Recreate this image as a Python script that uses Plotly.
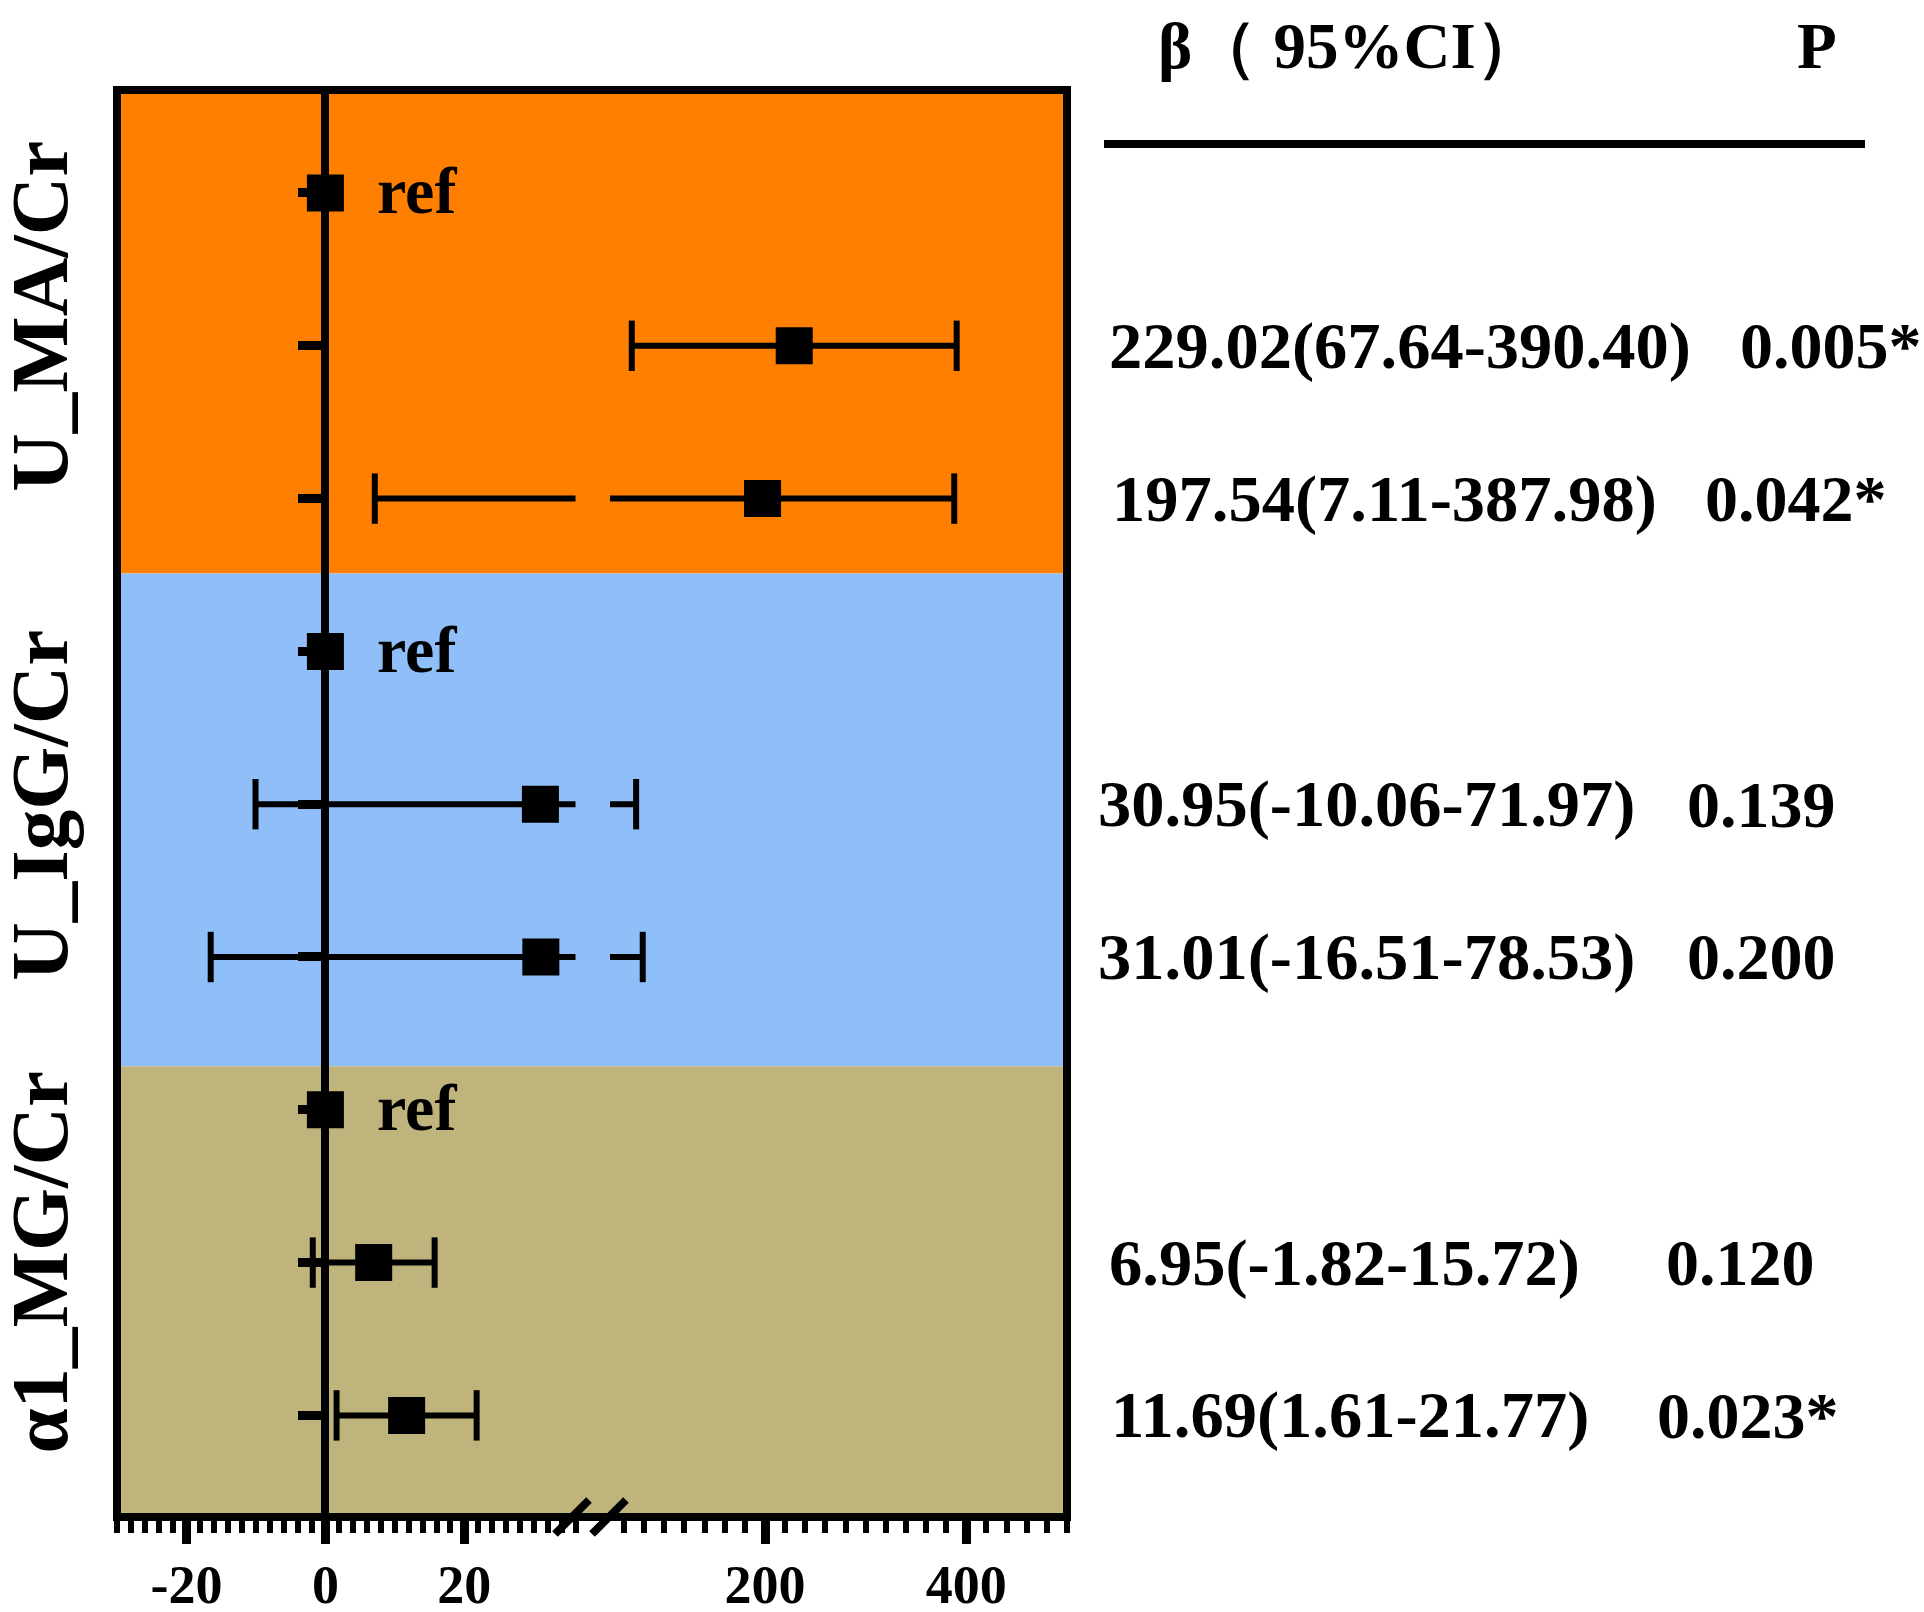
import plotly.graph_objects as go

# ---------------- data ----------------
groups = ["U_MA/Cr", "U_IgG/Cr", "α1_MG/Cr"]
group_colors = ["#FF8000", "#90BEF8", "#BFB47C"]
row_index = [0, 1, 2, 3, 4, 5, 6, 7, 8]
row_group = [0, 0, 0, 1, 1, 1, 2, 2, 2]
is_ref = [True, False, False, True, False, False, True, False, False]
beta = [0, 229.02, 197.54, 0, 30.95, 31.01, 0, 6.95, 11.69]
ci_low = [None, 67.64, 7.11, None, -10.06, -16.51, None, -1.82, 1.61]
ci_high = [None, 390.40, 387.98, None, 71.97, 78.53, None, 15.72, 21.77]
p_values = [None, "0.005*", "0.042*", None, "0.139", "0.200", None, "0.120", "0.023*"]
left_ticks = [-20, 0, 20]
right_ticks = [200, 400]
LEFT_RANGE = [-30, 36]
RIGHT_RANGE = [46, 500]

# ---------------- layout geometry (pixels) ----------------
W, H = 1924, 1612
ML, MR, MT, MB = 117, 857, 90, 95
PW = W - ML - MR
PH = H - MT - MB


def px2paper_x(px):
    return (px - ML) / PW


def px2paper_y(py):
    return 1 - (py - MT) / PH


D1 = px2paper_x(575.5)
D2 = px2paper_x(610)
Y_RANGE = [8.665, -0.674]
band_edges = [-0.674, 2.49, 5.715, 8.665]
FONT = "Liberation Serif, Times New Roman, serif"

fig = go.Figure()

axes = [("x", LEFT_RANGE), ("x2", RIGHT_RANGE)]
for xa, rng in axes:
    def inr(v, rng=rng):
        return v is not None and rng[0] <= v <= rng[1]
    # CI lines (clipped by subplot)
    for k in row_index:
        if is_ref[k]:
            continue
        fig.add_trace(go.Scatter(
            x=[ci_low[k], ci_high[k]], y=[k, k], xaxis=xa, yaxis="y",
            mode="lines", line=dict(color="black", width=6),
            showlegend=False, hoverinfo="skip"))
    # caps
    cx, cy = [], []
    for k in row_index:
        if is_ref[k]:
            continue
        for v in (ci_low[k], ci_high[k]):
            if inr(v):
                cx.append(v)
                cy.append(k)
    fig.add_trace(go.Scatter(
        x=cx, y=cy, xaxis=xa, yaxis="y", mode="markers",
        marker=dict(symbol="line-ns", size=36, line=dict(color="black", width=6)),
        showlegend=False, hoverinfo="skip"))
    # point estimates
    mx = [beta[k] for k in row_index if inr(beta[k])]
    my = [k for k in row_index if inr(beta[k])]
    fig.add_trace(go.Scatter(
        x=mx, y=my, xaxis=xa, yaxis="y", mode="markers",
        marker=dict(symbol="square", size=37, color="black", line=dict(width=0)),
        showlegend=False, hoverinfo="skip"))

shapes = []
# background bands
for g in range(3):
    shapes.append(dict(type="rect", xref="paper", yref="y", x0=0, x1=1,
                       y0=band_edges[g], y1=band_edges[g + 1],
                       fillcolor=group_colors[g], line=dict(width=0), layer="below"))
# frame
shapes.append(dict(type="rect", xref="paper", yref="paper", x0=0, x1=1, y0=0, y1=1,
                   line=dict(color="black", width=8), layer="above"))
# axis break marks (at the end of the left segment / start of the right segment)
shapes.append(dict(type="line", xref="paper", xsizemode="pixel", xanchor=D1,
                   x0=-20.5, x1=13.5, yref="paper", ysizemode="pixel", yanchor=0,
                   y0=-17, y1=17, line=dict(color="black", width=8)))
shapes.append(dict(type="line", xref="paper", xsizemode="pixel", xanchor=D2,
                   x0=-18, x1=16, yref="paper", ysizemode="pixel", yanchor=0,
                   y0=-17, y1=17, line=dict(color="black", width=8)))
# header underline
shapes.append(dict(type="line", xref="paper", yref="paper",
                   x0=px2paper_x(1104), x1=px2paper_x(1865),
                   y0=px2paper_y(144), y1=px2paper_y(144),
                   line=dict(color="black", width=8)))

ann = []
# ref labels
for k in row_index:
    if is_ref[k]:
        ann.append(dict(x=0, y=k, xref="x", yref="y", text="ref", showarrow=False,
                        xanchor="left", yanchor="middle", xshift=50, yshift=2,
                        font=dict(family=FONT, size=66, color="black", weight="bold")))
# group labels
group_label_y = [0.81, 4.01, 7.0]
for g in range(3):
    ann.append(dict(x=px2paper_x(40), y=group_label_y[g], xref="paper", yref="y",
                    text=groups[g], textangle=-90, showarrow=False,
                    xanchor="center", yanchor="middle",
                    font=dict(family=FONT, size=81, color="black", weight="bold")))
# right-side table
ci_x = [None, 1107, 1110, None, 1096, 1096, None, 1107, 1109]
p_x = [None, 1738, 1703, None, 1685, 1685, None, 1664, 1655]
for k in row_index:
    if is_ref[k]:
        continue
    txt = f"{beta[k]:.2f}({ci_low[k]:.2f}-{ci_high[k]:.2f})"
    ann.append(dict(x=px2paper_x(ci_x[k]), y=k, xref="paper", yref="y", text=txt,
                    showarrow=False, xanchor="left", yanchor="middle",
                    font=dict(family=FONT, size=66.5, color="black", weight="bold")))
    ann.append(dict(x=px2paper_x(p_x[k]), y=k, xref="paper", yref="y", text=p_values[k],
                    showarrow=False, xanchor="left", yanchor="middle",
                    font=dict(family=FONT, size=66, color="black", weight="bold")))
# header
ann.append(dict(x=px2paper_x(1156), y=px2paper_y(46), xref="paper", yref="paper",
                text="β（ 95%CI）", showarrow=False, xanchor="left", yanchor="middle",
                font=dict(family=FONT, size=65, color="black", weight="bold")))
ann.append(dict(x=px2paper_x(1817), y=px2paper_y(46), xref="paper", yref="paper",
                text="P", showarrow=False, xanchor="center", yanchor="middle",
                font=dict(family=FONT, size=65, color="black", weight="bold")))

tickfont = dict(family=FONT, size=54, color="black", weight="bold")
common_x = dict(showgrid=False, zeroline=False, showline=False, ticks="outside",
                ticklen=26, tickwidth=9, tickcolor="black", tickfont=tickfont,
                ticklabelstandoff=-6, anchor="y", automargin=False)

fig.update_layout(
    width=W, height=H, autosize=False,
    margin=dict(l=ML, r=MR, t=MT, b=MB, pad=0, autoexpand=False),
    paper_bgcolor="white", plot_bgcolor="white",
    xaxis=dict(domain=[0, D1], range=LEFT_RANGE, tickmode="array", tickvals=left_ticks,
               ticktext=[f"{v:g}" for v in left_ticks],
               minor=dict(ticks="outside", dtick=2, tick0=0, ticklen=15, tickwidth=6,
                          tickcolor="black", showgrid=False),
               **common_x),
    xaxis2=dict(domain=[D2, 1], range=RIGHT_RANGE, tickmode="array", tickvals=right_ticks,
                ticktext=[f"{v:g}" for v in right_ticks],
                minor=dict(ticks="outside", dtick=20, tick0=0, ticklen=15, tickwidth=6,
                           tickcolor="black", showgrid=False),
                **common_x),
    yaxis=dict(domain=[0, 1], range=Y_RANGE, anchor="free", automargin=False,
               position=D1 * (0 - LEFT_RANGE[0]) / (LEFT_RANGE[1] - LEFT_RANGE[0]),
               showgrid=False, zeroline=False, showline=True, linewidth=8,
               linecolor="black", ticks="outside", tickmode="array", tickvals=row_index,
               ticklen=23, tickwidth=9, tickcolor="black", showticklabels=False),
    shapes=shapes,
    annotations=ann,
    showlegend=False,
)

fig.write_html("out.html", config={"displayModeBar": False},
               post_script="document.body.style.margin='0';")
